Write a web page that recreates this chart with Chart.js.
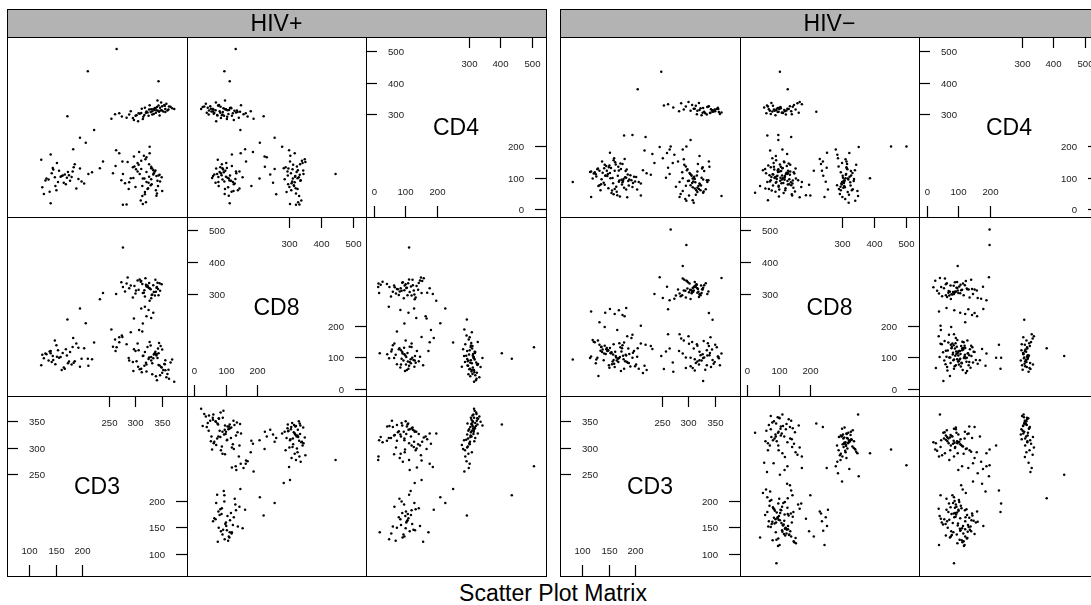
<!DOCTYPE html>
<html><head><meta charset="utf-8">
<script src="https://cdn.jsdelivr.net/npm/chart.js@4.4.1/dist/chart.umd.min.js"></script>
<style>
html,body{margin:0;padding:0;background:#fff;}
body{width:1091px;height:605px;overflow:hidden;position:relative;font-family:"Liberation Sans",Arial,Helvetica,sans-serif;}
canvas{position:absolute;}
.ln{position:absolute;background:#000;z-index:5;}
.box{position:absolute;border:1px solid #000;box-sizing:border-box;z-index:5;}
.strip{position:absolute;background:#B3B3B3;z-index:1;}
.txt{position:absolute;text-align:center;font-size:23px;line-height:28px;color:#000;z-index:6;white-space:nowrap;}
</style></head><body>
<script>
// ---------------- data ----------------
const groups = ['HIV+', 'HIV\u2212'];
const varNames = ['CD3', 'CD8', 'CD4'];

const posCD3 = [
312,335,348,301,356,322,341,289,365,330,
318,352,344,296,327,360,338,309,371,346,
275,333,358,315,342,324,303,350,337,362,
262,326,345,307,354,331,284,368,340,319,
298,351,336,313,358,328,347,292,343,364,
255,321,339,306,349,333,270,357,316,375,
318,335,301,327,345,289,312,340,322,351,
296,330,309,342,317,274,333,324,348,305,
327,314,338,281,320,344,299,331,311,336,
264,325,347,307,319,339,292,328,315,343,
302,332,321,286,341,
135,162,148,181,126,170,195,153,141,188,
158,121,176,144,203,166,131,185,150,172,
139,198,160,123,183,147,211,168,155,129,
174,192,143,164,218,137,179,151,
288,305,263,322,276,341,297,258,314,331,270,352,
319,326,312,331,322,308,328,335,315,298,
265,210,345,277,171,222,195,206,182,239,233,139,277,284
];
const posCD4 = [
305,318,322,296,331,310,314,300,326,308,
299,327,312,289,316,335,321,303,320,309,
294,311,318,286,324,307,298,339,315,313,
301,296,329,304,310,317,290,325,306,322,
283,314,302,319,308,330,297,311,345,316,
287,306,320,279,313,300,304,328,293,318,
95,122,68,141,105,83,152,58,116,99,
131,74,110,47,168,90,127,62,86,145,
101,39,118,80,157,71,134,93,25,112,
186,64,107,139,52,121,96,176,14,88,
125,77,19,148,103,
92,105,71,118,46,98,127,84,112,63,
101,155,88,124,79,108,95,141,58,116,
172,86,103,67,131,99,110,77,120,89,
106,94,129,82,115,53,100,145,
62,118,135,84,150,40,97,112,71,128,176,55,
45,82,126,133,163,180,197,108,95,166,
510,439,407,110,295,251,226,210,189,150,128,16,11,12
];
const posCD8 = [
62,95,41,118,77,53,104,88,30,136,
71,49,126,83,98,35,112,60,91,144,
168,79,57,102,25,131,86,67,109,45,
155,93,74,121,58,99,140,82,38,115,
124,66,107,51,89,147,72,178,96,59,
187,81,116,68,134,44,162,76,103,20,
312,328,301,335,296,318,341,307,324,331,
289,315,346,322,304,337,298,327,310,343,
319,332,295,308,350,316,325,286,339,306,
300,321,334,313,292,345,327,318,303,336,
311,297,329,352,320,
88,112,76,131,95,104,68,121,83,142,
99,73,115,90,127,62,108,86,137,79,
118,94,58,106,81,152,71,124,97,110,
85,129,102,66,92,117,75,100,
96,142,118,75,163,108,55,132,180,88,146,123,
259,249,254,223,229,185,278,240,206,222,
130,94,111,448,219,145,254,207,160,303,283,111,322,333
];

// HIV- observations
const negCD3 = [
318,342,296,355,331,308,361,324,287,347,
336,272,352,315,328,344,301,359,322,338,
262,349,311,333,357,292,326,340,305,364,
329,346,254,317,351,337,283,321,343,313,
358,347,
302,318,289,325,311,296,334,307,315,281,
322,298,309,329,274,316,304,337,293,320,
312,286,327,300,318,265,309,331,295,323,
252,314,306,290,326,319,277,303,339,311,
299,321,246,308,317,284,328,305,313,292,
324,260,310,297,236,
152,168,131,185,144,176,160,122,197,139,
171,155,188,128,163,147,206,136,180,158,
115,174,149,192,166,133,183,141,157,221,
178,125,161,199,145,170,118,187,153,229,
164,137,182,150,210,127,173,159,194,143,
186,167,120,154,177,214,134,162,201,148,
113,175,190,140,165,156,232,129,181,169,
146,203,172,135,158,195,124,184,151,217,
296,318,271,330,258,309,341,284,322,265,302,336,290,313,
115,151,160,168,175,182,142,179,
249,204,267,297,290,80,364,178,194,219,305,329,340,210,131,141,262
];
const negCD4 = [
312,305,326,318,309,331,302,320,336,314,
300,323,311,328,306,317,340,308,315,325,
333,310,319,304,322,316,298,327,312,307,
321,313,329,301,316,324,311,337,306,319,
318,309,
88,52,115,73,96,134,61,104,43,150,
79,122,67,92,171,58,110,84,139,71,
101,46,127,87,66,188,95,119,30,76,
160,83,107,55,98,142,69,113,90,18,
125,62,196,81,105,36,131,74,94,157,
58,177,86,24,145,
96,121,74,108,135,88,62,115,101,82,
143,57,92,127,69,110,84,150,99,45,
118,76,131,90,104,58,124,139,80,112,
66,102,147,86,120,38,95,73,129,107,
53,114,98,137,79,125,91,160,68,105,
87,133,111,49,94,122,77,140,100,64,
116,83,106,128,42,97,174,71,119,89,
103,60,126,93,154,81,109,35,113,185,
72,118,145,54,98,26,133,84,167,110,41,90,188,63,
36,178,120,85,142,60,104,158,
437,381,198,198,96,84,39,233,235,228,219,50,150,41,120,75,130
];
const negCD8 = [
85,112,64,130,98,147,73,105,158,90,
121,52,138,80,108,67,165,95,116,143,
172,78,126,59,101,152,88,134,70,110,
96,123,61,140,83,104,118,75,162,92,
100,218,
305,318,296,327,311,289,334,302,322,314,
298,341,309,320,285,331,313,300,345,307,
324,293,315,337,304,280,319,328,310,299,
287,326,312,349,303,316,295,333,308,321,
317,290,353,306,329,301,314,284,338,311,
296,323,307,342,300,
112,95,138,81,124,103,67,146,118,89,
130,76,109,152,98,121,62,115,86,140,
101,127,73,160,94,119,84,135,107,58,
145,91,116,70,128,99,153,80,111,134,
88,123,104,65,142,97,117,78,170,109,
126,83,148,114,92,48,131,102,75,120,
96,137,69,110,185,85,125,39,106,143,
118,100,55,132,90,113,79,165,128,71,
98,135,82,150,117,64,105,172,89,126,141,73,110,56,
244,252,236,248,233,255,240,229,
102,127,505,456,389,91,351,62,97,138,97,23,239,199,210,195,251
];

// axis limits and tick labels of each variable
const rangeCD3 = [58, 397];
const rangeCD4 = [-24, 544.5];
const rangeCD8 = [-21, 541];
const ticksCD3Low = [100, 150, 200], ticksCD3High = [250, 300, 350];
const ticksCD4Low = [0, 100, 200],   ticksCD4High = [300, 400, 500];
const ticksCD8Low = [0, 100, 200],   ticksCD8High = [300, 400, 500];
const titleText = 'Scatter Plot Matrix';

// ---------------- layout ----------------
const ranges = {CD3: rangeCD3, CD4: rangeCD4, CD8: rangeCD8};
const tickSets = {
  CD3: {low: ticksCD3Low, high: ticksCD3High},
  CD4: {low: ticksCD4Low, high: ticksCD4High},
  CD8: {low: ticksCD8Low, high: ticksCD8High}
};
const groupData = [
  {CD3: posCD3, CD4: posCD4, CD8: posCD8},
  {CD3: negCD3, CD4: negCD4, CD8: negCD8}
];
const colVars = [varNames[0], varNames[1], varNames[2]];          // x variable per column
const rowVars = [varNames[2], varNames[1], varNames[0]];          // y variable per row (top to bottom)
const colX = [[7, 187, 366, 546], [560, 740, 919, 1099]];
const rowY = [37, 217, 396, 576];
const stripTop = 9;
const FONT = '"Liberation Sans", Arial, Helvetica, sans-serif';

const diagPlugin = {
  id: 'diagAxes',
  afterDraw(chart, args, opts) {
    if (!opts || !opts.name) return;
    const ctx = chart.ctx, xs = chart.scales.x, ys = chart.scales.y;
    const w = chart.width, h = chart.height;
    const TL = 11, LOFF = 22;
    ctx.save();
    ctx.strokeStyle = '#000'; ctx.lineWidth = 1.2; ctx.fillStyle = '#1a1a1a';
    ctx.font = '9.6px ' + FONT;
    const cap = 3.4;
    // left (upper values)
    opts.high.forEach(v => {
      const y = Math.round(ys.getPixelForValue(v)) + 0.5;
      ctx.beginPath(); ctx.moveTo(0, y); ctx.lineTo(TL, y); ctx.stroke();
      ctx.textAlign = 'left'; ctx.fillText(String(v), LOFF, y + cap);
    });
    // right (lower values)
    opts.low.forEach(v => {
      const y = Math.round(ys.getPixelForValue(v)) + 0.5;
      ctx.beginPath(); ctx.moveTo(w - TL, y); ctx.lineTo(w, y); ctx.stroke();
      ctx.textAlign = 'right'; ctx.fillText(String(v), w - LOFF, y + cap);
    });
    // top (upper values)
    opts.high.forEach(v => {
      const x = Math.round(xs.getPixelForValue(v)) + 0.5;
      ctx.beginPath(); ctx.moveTo(x, 0); ctx.lineTo(x, TL); ctx.stroke();
      ctx.textAlign = 'center'; ctx.fillText(String(v), x, 26.5 + cap);
    });
    // bottom (lower values)
    opts.low.forEach(v => {
      const x = Math.round(xs.getPixelForValue(v)) + 0.5;
      ctx.beginPath(); ctx.moveTo(x, h - TL); ctx.lineTo(x, h); ctx.stroke();
      ctx.textAlign = 'center'; ctx.fillText(String(v), x, h - 25.7 + cap);
    });
    // variable name
    ctx.fillStyle = '#000';
    ctx.font = '23px ' + FONT;
    ctx.textAlign = 'center';
    ctx.fillText(opts.name, w / 2, h / 2 + 8.2);
    ctx.restore();
  }
};

function addDiv(cls, l, t, w, h, text) {
  const d = document.createElement('div');
  d.className = cls;
  d.style.left = l + 'px'; d.style.top = t + 'px';
  d.style.width = w + 'px'; d.style.height = h + 'px';
  if (text !== undefined) d.textContent = text;
  document.body.appendChild(d);
  return d;
}

groups.forEach((g, gi) => {
  const xs = colX[gi];
  const d = groupData[gi];
  for (let r = 0; r < 3; r++) {
    for (let c = 0; c < 3; c++) {
      const cv = document.createElement('canvas');
      const w = xs[c + 1] - xs[c], h = rowY[r + 1] - rowY[r];
      cv.width = w; cv.height = h;
      cv.style.left = xs[c] + 'px'; cv.style.top = rowY[r] + 'px';
      cv.style.width = w + 'px'; cv.style.height = h + 'px';
      document.body.appendChild(cv);
      const xv = colVars[c], yv = rowVars[r];
      const diag = xv === yv;
      const pts = diag ? [] : d[xv].map((v, i) => ({x: v, y: d[yv][i]}));
      new Chart(cv, {
        type: 'scatter',
        data: {datasets: [{data: pts, pointRadius: 1.25, pointHoverRadius: 1.25,
          backgroundColor: '#000', borderColor: '#000', borderWidth: 0, pointBorderWidth: 0}]},
        options: {
          responsive: false, maintainAspectRatio: false, animation: false, events: [],
          devicePixelRatio: 1,
          layout: {padding: 0},
          plugins: {legend: {display: false}, tooltip: {enabled: false},
            diagAxes: diag ? {name: xv, low: tickSets[xv].low, high: tickSets[xv].high} : {}},
          scales: {
            x: {type: 'linear', display: false, min: ranges[xv][0], max: ranges[xv][1]},
            y: {type: 'linear', display: false, min: ranges[yv][0], max: ranges[yv][1]}
          }
        },
        plugins: [diagPlugin]
      });
    }
  }
  const x0 = xs[0], x3 = xs[3];
  addDiv('strip', x0, stripTop, x3 - x0, rowY[0] - stripTop);
  addDiv('txt', x0, stripTop, x3 - x0, rowY[0] - stripTop, g);
  addDiv('box', x0, stripTop, x3 - x0 + 1, rowY[3] - stripTop + 1);
  for (let r = 0; r < 3; r++) addDiv('ln', x0, rowY[r], x3 - x0, 1);
  addDiv('ln', xs[1], rowY[0], 1, rowY[3] - rowY[0]);
  addDiv('ln', xs[2], rowY[0], 1, rowY[3] - rowY[0]);
});
addDiv('txt', 553 - 300, 579, 600, 28, titleText);
</script>
</body></html>
